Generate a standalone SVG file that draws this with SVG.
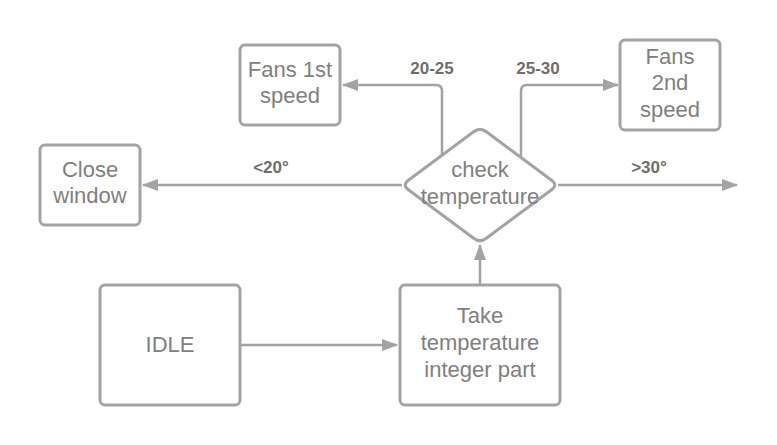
<svg xmlns="http://www.w3.org/2000/svg" width="777" height="445" viewBox="0 0 777 445">
<defs>
<style>
.box{fill:#ffffff;stroke:#a3a3a3;stroke-width:3}
.t{font-family:"Liberation Sans",Arial,sans-serif;font-size:22px;fill:#808080;text-anchor:middle}
.lbl{font-family:"Liberation Sans",Arial,sans-serif;font-size:17px;font-weight:bold;fill:#6e6e6e;text-anchor:middle}
.c{fill:none;stroke:#a3a3a3;stroke-width:2.5}
</style>
<marker id="arr" markerUnits="userSpaceOnUse" viewBox="0 0 16 12" refX="15" refY="6" markerWidth="16" markerHeight="12" orient="auto">
<path d="M0,0 L16,6 L0,12 Z" fill="#a3a3a3"/>
</marker>
</defs>
<rect width="777" height="445" fill="#ffffff"/>
<g id="connectors">
<path class="c" d="M402,185 L143,185" marker-end="url(#arr)"/>
<path class="c" d="M558,185 L737,185" marker-end="url(#arr)"/>
<path class="c" d="M442,155 L442,91 Q442,85 436,85 L343,85" marker-end="url(#arr)"/>
<path class="c" d="M521,157 L521,91 Q521,85 527,85 L618,85" marker-end="url(#arr)"/>
<path class="c" d="M241,345 L397,345" marker-end="url(#arr)"/>
<path class="c" d="M480,285 L480,245" marker-end="url(#arr)"/>
<text class="lbl" x="432" y="74">20-25</text>
<text class="lbl" x="538" y="74">25-30</text>
<text class="lbl" x="271" y="173">&lt;20°</text>
<text class="lbl" x="649" y="173">&gt;30°</text>
</g>
<g id="fans1">
<rect class="box" x="240" y="45" width="100" height="80" rx="5"/>
<text class="t" x="290" y="77">Fans 1st</text>
<text class="t" x="290" y="103">speed</text>
</g>
<g id="fans2">
<rect class="box" x="620" y="40" width="100" height="90" rx="5"/>
<text class="t" x="670" y="63.5">Fans</text>
<text class="t" x="670" y="90">2nd</text>
<text class="t" x="670" y="116.5">speed</text>
</g>
<g id="check">
<path class="box" d="M486.4,131.8 L551.6,180.2 Q558,185 551.6,189.8 L486.4,238.2 Q480,243 473.6,238.2 L408.4,189.8 Q402,185 408.4,180.2 L473.6,131.8 Q480,127 486.4,131.8 Z"/>
<text class="t" x="480" y="177">check</text>
<text class="t" x="480" y="203.5">temperature</text>
</g>
<g id="close">
<rect class="box" x="40" y="145" width="100" height="80" rx="5"/>
<text class="t" x="90" y="177">Close</text>
<text class="t" x="90" y="203">window</text>
</g>
<g id="idle">
<rect class="box" x="100" y="285" width="140" height="120" rx="5"/>
<text class="t" x="170" y="352">IDLE</text>
</g>
<g id="take">
<rect class="box" x="400" y="285" width="160" height="120" rx="5"/>
<text class="t" x="480" y="323">Take</text>
<text class="t" x="480" y="350">temperature</text>
<text class="t" x="480" y="376.5">integer part</text>
</g>
</svg>
